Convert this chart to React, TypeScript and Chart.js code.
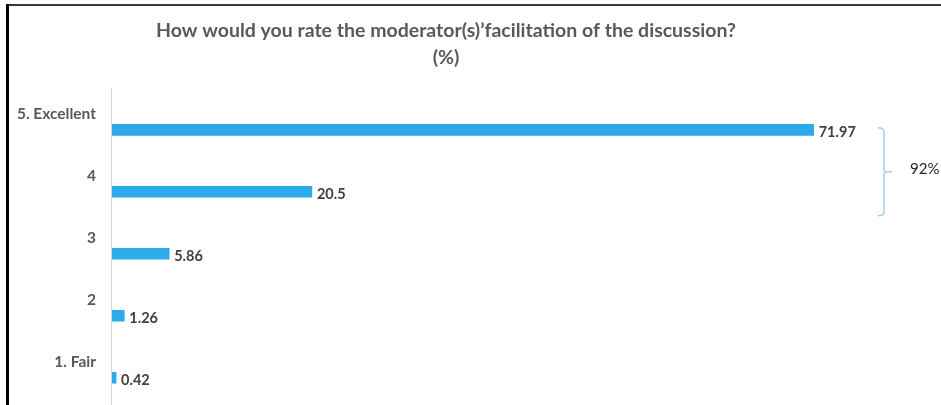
import React, { useEffect, useRef } from 'react';
import { Chart, registerables } from 'chart.js';

Chart.register(...registerables);

const titleLines = ['How would you rate the moderator(s)\u2019facilitation of the discussion?', '(%)'];
const categories = ['5. Excellent', '4', '3', '2', '1. Fair'];
const values = [71.97, 20.5, 5.86, 1.26, 0.42];
const valueLabels = ['71.97', '20.5', '5.86', '1.26', '0.42'];
const groupIndices = [0, 1];
const groupLabel = '92%';
const axisMax = 80;

const FONT = 'Lato, "Open Sans", sans-serif';

const decorPlugin = {
  id: 'decor',
  beforeDraw(chart: any) {
    const ctx = chart.ctx;
    ctx.save();
    ctx.fillStyle = '#ffffff';
    ctx.fillRect(0, 0, chart.width, chart.height);
    ctx.fillStyle = '#3a3a3a';
    ctx.fillRect(6, 4, chart.width - 6, 2);
    ctx.fillStyle = '#000000';
    ctx.fillRect(6, 4, 3, chart.height);
    const area = chart.chartArea;
    ctx.strokeStyle = '#d4d4d4';
    ctx.lineWidth = 1;
    ctx.beginPath();
    ctx.moveTo(Math.round(area.left) - 0.5, area.top - 11);
    ctx.lineTo(Math.round(area.left) - 0.5, chart.height);
    ctx.stroke();
    ctx.restore();
  },
  afterDatasetsDraw(chart: any) {
    const ctx = chart.ctx;
    const meta = chart.getDatasetMeta(0);
    ctx.save();
    ctx.font = `bold 14.5px ${FONT}`;
    ctx.fillStyle = '#404040';
    ctx.textBaseline = 'middle';
    ctx.textAlign = 'left';
    meta.data.forEach((bar: any, i: number) => {
      ctx.fillText(valueLabels[i], bar.x + 5, bar.y + 3);
    });
    const first: any = meta.data[groupIndices[0]];
    const last: any = meta.data[groupIndices[groupIndices.length - 1]];
    const top = first.y - 2;
    const bottom = last.y + 24;
    const xs = chart.scales.x;
    const bx = xs.right - 8;
    const mid = (top + bottom) / 2;
    ctx.strokeStyle = '#a8cbea';
    ctx.lineWidth = 1.5;
    ctx.beginPath();
    ctx.moveTo(bx - 6, top);
    ctx.quadraticCurveTo(bx, top, bx, top + 4);
    ctx.lineTo(bx, mid - 2);
    ctx.quadraticCurveTo(bx, mid, bx + 4, mid);
    ctx.lineTo(bx + 8, mid);
    ctx.moveTo(bx + 4, mid);
    ctx.quadraticCurveTo(bx, mid, bx, mid + 2);
    ctx.lineTo(bx, bottom - 4);
    ctx.quadraticCurveTo(bx, bottom, bx - 6, bottom);
    ctx.stroke();
    ctx.font = `15px ${FONT}`;
    ctx.fillStyle = '#262626';
    ctx.fillText(groupLabel, bx + 26, mid - 3);
    ctx.restore();
  },
};

export default function App() {
  const ref = useRef<HTMLCanvasElement>(null);
  useEffect(() => {
    document.body.style.margin = '0';
    const chart = new Chart(ref.current as HTMLCanvasElement, {
      type: 'bar',
      data: {
        labels: categories,
        datasets: [
          {
            data: values,
            backgroundColor: '#2ea9e9',
            barThickness: 11,
          },
        ],
      },
      options: {
        indexAxis: 'y',
        responsive: false,
        animation: false,
        devicePixelRatio: 1,
        layout: { padding: { left: 0, right: 49, top: 0, bottom: 12 } },
        plugins: {
          legend: { display: false },
          tooltip: { enabled: false },
          title: {
            display: true,
            text: titleLines,
            color: '#595959',
            font: { family: FONT, size: 19.5, weight: 'bold', lineHeight: 1.38 },
            padding: { top: 17, bottom: 28 },
          },
        },
        scales: {
          x: {
            display: false,
            min: 0,
            max: axisMax,
            grid: { display: false },
          },
          y: {
            grid: { display: false, drawTicks: false },
            border: { display: false },
            afterFit: (scale: any) => {
              scale.width = 112;
            },
            ticks: {
              color: '#595959',
              font: { family: FONT, size: 15.5, weight: 'bold' },
              padding: 16,
              labelOffset: -16,
            },
          },
        },
      },
      plugins: [decorPlugin],
    } as any);
    return () => chart.destroy();
  }, []);
  return (
    <div style={{ width: 941, height: 405, overflow: 'hidden', position: 'relative' }}>
      <canvas ref={ref} width={941} height={434} style={{ display: 'block' }} />
    </div>
  );
}
